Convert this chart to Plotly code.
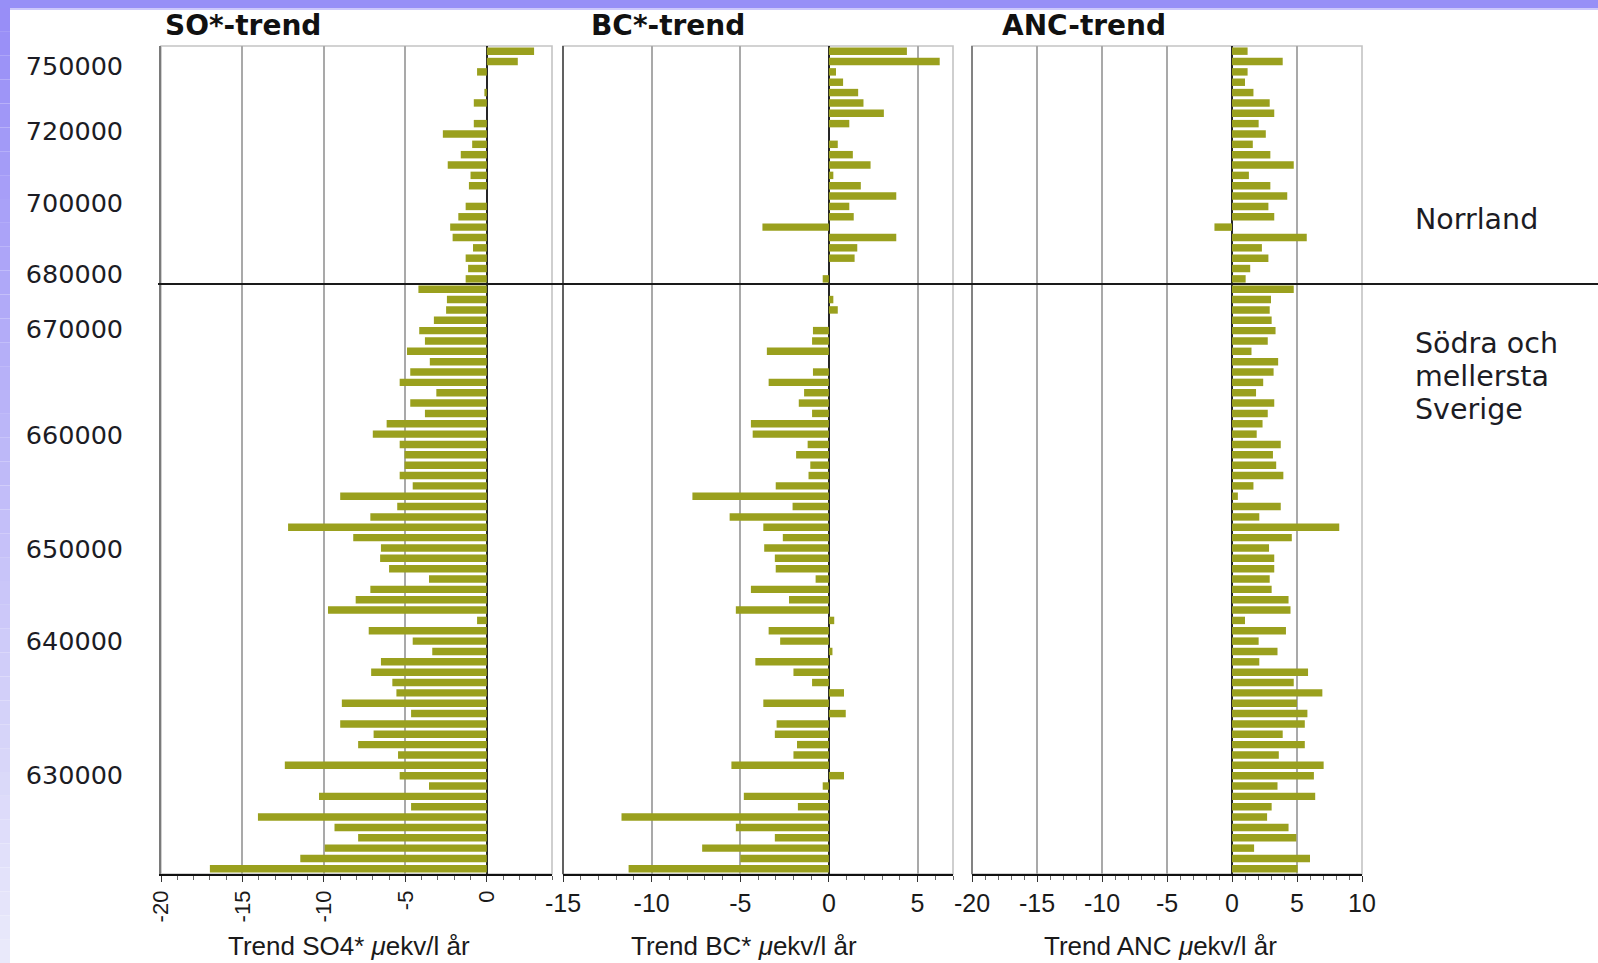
import plotly.graph_objects as go

# Lakes ordered north -> south (rank 0 = northernmost); trends in µekv/l per year
so4_trend = [
    2.9, 1.9, -0.6, 0.0, -0.15, -0.8, 0.0, -0.8, -2.7, -0.9,
    -1.6, -2.4, -1.0, -1.1, 0.0, -1.3, -1.75, -2.25, -2.1, -0.85,
    -1.3, -1.15, -1.3,
    -4.2, -2.45, -2.5, -3.25, -4.15, -3.8, -4.9, -3.5, -4.7, -5.35,
    -3.1, -4.7, -3.8, -6.15, -7.0, -5.35, -5.05, -5.05, -5.35, -4.55,
    -9.0, -5.5, -7.15, -12.2, -8.2, -6.5, -6.55, -6.0, -3.55, -7.15,
    -8.05, -9.75, -0.6, -7.25, -4.55, -3.35, -6.5, -7.1, -5.8, -5.55,
    -8.9, -4.65, -9.0, -6.95, -7.9, -5.45, -12.4, -5.35, -3.55, -10.3,
    -4.65, -14.05, -9.35, -7.9, -9.95, -11.45, -17.0,
]
bc_trend = [
    4.4, 6.25, 0.4, 0.8, 1.65, 1.95, 3.1, 1.15, 0.0, 0.5,
    1.35, 2.35, 0.25, 1.8, 3.8, 1.15, 1.4, -3.75, 3.8, 1.6,
    1.45, 0.0, -0.35,
    0.0, 0.25, 0.5, 0.0, -0.9, -0.95, -3.5, 0.0, -0.9, -3.4,
    -1.4, -1.7, -0.95, -4.4, -4.3, -1.2, -1.85, -1.05, -1.15, -3.0,
    -7.7, -2.05, -5.6, -3.7, -2.6, -3.65, -3.05, -3.0, -0.75, -4.4,
    -2.25, -5.25, 0.3, -3.4, -2.75, 0.2, -4.15, -2.0, -0.95, 0.85,
    -3.7, 0.95, -2.95, -3.05, -1.8, -2.0, -5.5, 0.85, -0.35, -4.8,
    -1.75, -11.7, -5.25, -3.05, -7.15, -5.0, -11.3,
]
anc_trend = [
    1.2, 3.9, 1.2, 1.0, 1.65, 2.9, 3.25, 2.05, 2.6, 1.6,
    2.95, 4.75, 1.3, 2.95, 4.25, 2.8, 3.25, -1.35, 5.75, 2.3,
    2.8, 1.4, 1.05,
    4.75, 3.0, 2.9, 3.05, 3.35, 2.75, 1.5, 3.55, 3.2, 2.4,
    1.85, 3.25, 2.75, 2.35, 1.9, 3.75, 3.15, 3.4, 3.95, 1.65,
    0.45, 3.75, 2.1, 8.25, 4.6, 2.85, 3.25, 3.25, 2.9, 3.05,
    4.35, 4.5, 1.0, 4.15, 2.05, 3.5, 2.1, 5.85, 4.75, 6.95,
    5.0, 5.8, 5.6, 3.9, 5.6, 3.6, 7.05, 6.3, 3.5, 6.4,
    3.05, 2.7, 4.35, 4.95, 1.7, 6.0, 5.05,
]
lake_rank = list(range(len(so4_trend)))
n_norrland = 23  # lakes above the Norrland boundary

# Northing (RT90) labels placed at their rank positions
northing_pos = [1.43, 7.76, 14.67, 21.53, 26.84, 37.08, 48.1, 56.99, 69.9]
northing_text = ["750000", "720000", "700000", "680000", "670000",
                 "660000", "650000", "640000", "630000"]

# Major x ticks per panel (plain hyphen as minus sign)
x_tickvals = [[-20, -15, -10, -5, 0],
              [-15, -10, -5, 0, 5],
              [-20, -15, -10, -5, 0, 5, 10]]
x_ticktext = [["-20", "-15", "-10", "-5", "0"],
              ["-15", "-10", "-5", "0", "5"],
              ["-20", "-15", "-10", "-5", "0", "5", "10"]]

panel_titles = ["SO*-trend", "BC*-trend", "ANC-trend"]
axis_titles = ["Trend SO4* <i>\u03bc</i>ekv/l år",
               "Trend BC* <i>\u03bc</i>ekv/l år",
               "Trend ANC <i>\u03bc</i>ekv/l år"]
x_ranges = [[-20, 4], [-15, 7], [-20, 10]]
region_labels = ["Norrland", "Södra och", "mellersta", "Sverige"]

OLIVE = "#9aa01e"
W, H = 1598, 963
ML, MR, MT, MB = 161, 236, 46, 89
PW, PH = W - ML - MR, H - MT - MB


def px_x(px):
    return (px - ML) / PW


def px_y(py):
    return (H - MB - py) / PH


domains = [[0.0, px_x(552)], [px_x(563), px_x(953)], [px_x(972), 1.0]]
xnames = ["x", "x2", "x3"]

fig = go.Figure()
for series, xn in zip([so4_trend, bc_trend, anc_trend], xnames):
    fig.add_trace(go.Bar(
        x=series, y=lake_rank, orientation="h", xaxis=xn, yaxis="y",
        marker=dict(color=OLIVE, line=dict(width=0)), width=0.72,
        showlegend=False, hoverinfo="x",
    ))

tick_font = dict(family="Liberation Sans, Arial, sans-serif", size=25, color="#1a1a1a")
layout_axes = {}
for k, (xn, dom, rng) in enumerate(zip(xnames, domains, x_ranges)):
    key = "xaxis" if k == 0 else f"xaxis{k + 1}"
    layout_axes[key] = dict(
        domain=dom, range=rng, anchor="y",
        tickmode="array", tickvals=x_tickvals[k], ticktext=x_ticktext[k],
        showgrid=True, gridcolor="#a9a9a9", gridwidth=1.6,
        zeroline=True, zerolinecolor="#262626", zerolinewidth=2,
        showline=True, linecolor="#111111", linewidth=1.6,
        ticks="outside", ticklen=6, tickwidth=1.3, tickcolor="#333333",
        minor=dict(tickmode="linear", tick0=0, dtick=1, ticks="outside", ticklen=4,
                   tickwidth=1, tickcolor="#666666", showgrid=False),
        tickfont=dict(tick_font, size=22) if k == 0 else tick_font,
        tickangle=-90 if k == 0 else 0,
        ticklabelstandoff=0,
        fixedrange=True,
    )

fig.update_layout(
    width=W, height=H,
    margin=dict(l=ML, r=MR, t=MT, b=MB, pad=0),
    paper_bgcolor="white", plot_bgcolor="white",
    bargap=0.28,
    yaxis=dict(
        domain=[0, 1], range=[len(lake_rank) - 0.5, -0.5], anchor="x",
        tickmode="array", tickvals=northing_pos, ticktext=northing_text,
        tickfont=dict(family="DejaVu Sans, sans-serif", size=25.5, color="#1c1c24"),
        ticks="", ticklabelstandoff=31,
        showgrid=False, zeroline=False,
        showline=True, linecolor="#7a7a7a", linewidth=1.6,
        fixedrange=True,
    ),
    **layout_axes,
)

shapes = []
# Light frame on top and right of each panel, darker left edges
for k, xn in enumerate(xnames):
    shapes.append(dict(type="rect", xref=f"{xn} domain", yref="y domain",
                       x0=0, x1=1, y0=0, y1=1,
                       line=dict(color="#c4c4c4", width=1.6), layer="below"))
    if k > 0:
        shapes.append(dict(type="line", xref=f"{xn} domain", yref="y domain",
                           x0=0, x1=0, y0=0, y1=1,
                           line=dict(color="#555555" if k == 1 else "#7a7a7a", width=1.8)))

# Boundary between Norrland and southern/central Sweden
shapes.append(dict(type="line", xref="paper", yref="y",
                   x0=px_x(158), x1=px_x(W), y0=n_norrland - 0.5, y1=n_norrland - 0.5,
                   line=dict(color="#1a1a1a", width=2)))

# Lavender frame along the top and left edge of the page
shapes.append(dict(type="rect", xref="paper", yref="paper",
                   x0=px_x(0), x1=px_x(W), y0=px_y(8), y1=px_y(0),
                   fillcolor="#978ff7", line=dict(width=0), layer="below"))
shapes.append(dict(type="rect", xref="paper", yref="paper",
                   x0=px_x(10), x1=px_x(W), y0=px_y(10), y1=px_y(8),
                   fillcolor="#cdc8fb", line=dict(width=0), layer="below"))
n_seg = 40
top_rgb, bot_rgb = (152, 142, 247), (233, 233, 250)
for s in range(n_seg):
    t = s / (n_seg - 1)
    c = tuple(int(round(a + (b - a) * t)) for a, b in zip(top_rgb, bot_rgb))
    y_top = 8 + (H - 8) * s / n_seg
    y_bot = 8 + (H - 8) * (s + 1) / n_seg
    shapes.append(dict(type="rect", xref="paper", yref="paper",
                       x0=px_x(0), x1=px_x(10), y0=px_y(y_bot), y1=px_y(y_top),
                       fillcolor=f"rgb{c}", line=dict(width=0), layer="below"))

annotations = []
title_left_px = [163, 589, 1000]
for title, lx in zip(panel_titles, title_left_px):
    annotations.append(dict(text=f"<b>{title}</b>", xref="paper", yref="paper",
                            x=px_x(lx), y=px_y(25), xanchor="left", yanchor="middle",
                            showarrow=False,
                            font=dict(family="DejaVu Sans, sans-serif", size=28, color="#111111")))
title_center_px = [349, 744, 1160]
for title, cx in zip(axis_titles, title_center_px):
    annotations.append(dict(text=title, xref="paper", yref="paper",
                            x=px_x(cx), y=px_y(962), xanchor="center", yanchor="bottom",
                            borderpad=0, showarrow=False,
                            font=dict(family="Liberation Sans, Arial, sans-serif", size=26,
                                      color="#1a1a1a")))
region_rank = [16.3, 28.2, 31.4, 34.6]
for txt, r in zip(region_labels, region_rank):
    annotations.append(dict(text=txt, xref="paper", yref="y",
                            x=px_x(1413), y=r, xanchor="left", yanchor="middle",
                            showarrow=False,
                            font=dict(family="DejaVu Sans, sans-serif", size=28.5, color="#1c1c24")))

fig.update_layout(shapes=shapes, annotations=annotations)
fig.write_html("out.html")
